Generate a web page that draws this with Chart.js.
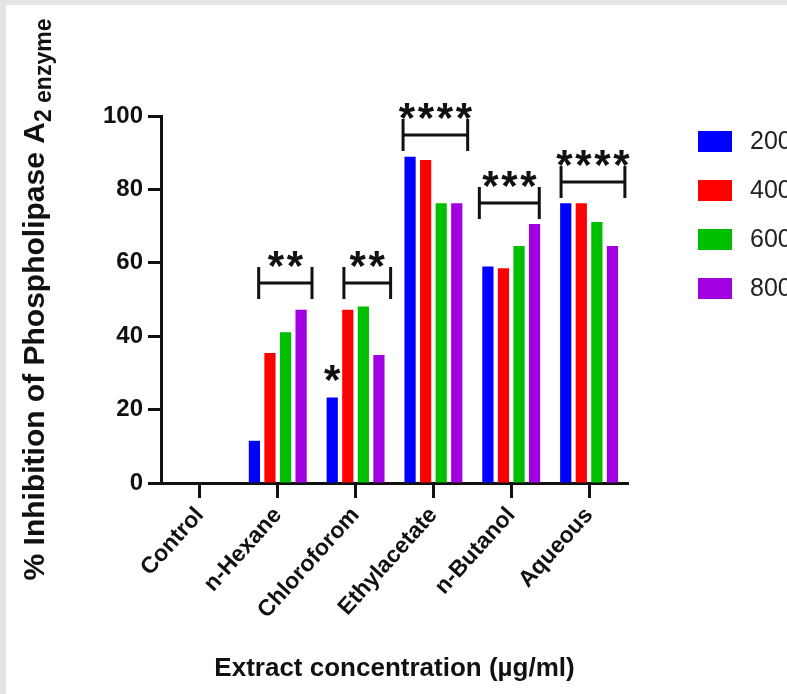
<!DOCTYPE html>
<html><head><meta charset="utf-8">
<script src="https://cdn.jsdelivr.net/npm/chart.js@4.4.0/dist/chart.umd.min.js"></script>
<style>
html,body{margin:0;padding:0;background:#e4e4e4;width:787px;height:694px;overflow:hidden}
#wrap{position:absolute;left:6px;top:5px;width:781px;height:689px;background:#fff}
canvas{display:block}
</style></head><body><div id="wrap"><canvas id="c" width="781" height="689"></canvas></div>
<script>
// ---- data ----
const categories = ['Control', 'n-Hexane', 'Chloroforom', 'Ethylacetate', 'n-Butanol', 'Aqueous'];
const seriesLabels = ['200', '400', '600', '800'];
const conc200 = [0, 11.5, 23.3, 88.9, 59.0, 76.2];
const conc400 = [0, 35.4, 47.2, 88.0, 58.5, 76.2];
const conc600 = [0, 41.1, 48.1, 76.2, 64.6, 71.1];
const conc800 = [0, 47.2, 34.9, 76.2, 70.6, 64.6];
const yTickValues = [0, 20, 40, 60, 80, 100];
const sigLabels = ['', '**', '**', '****', '***', '****'];   // significance over each group
const sigLevels = [null, 54.5, 54.5, 94.8, 76.3, 82.0];      // bracket level (% units)
const singleMarkCategory = 'Chloroforom';
const singleMarkSeries = 0;
const singleMarkLabel = '*';

const FONT = "'Liberation Sans', Arial, sans-serif";
const colors = ['#0000ff', '#ff0000', '#00bf00', '#a100e1'];
const seriesData = [conc200, conc400, conc600, conc800];

// bracket horizontal extents relative to group centre (fraction of category width)
const bracketSpan = [null, [-0.245, 0.44], [-0.15, 0.45], [-0.39, 0.44], [-0.41, 0.36], [-0.36, 0.46]];

const annotations = {
  id: 'annotations',
  afterDatasetsDraw(chart) {
    const {ctx, scales: {x, y}} = chart;
    const cw = x.width / categories.length;
    ctx.save();
    ctx.strokeStyle = '#111';
    ctx.fillStyle = '#111';
    ctx.lineWidth = 3;
    ctx.font = 'bold 42px ' + FONT;
    ctx.textAlign = 'center';
    const m = ctx.measureText('*');
    const starOffset = (m.actualBoundingBoxDescent - m.actualBoundingBoxAscent) / 2;
    const drawStars = (label, cx, cy) => {
      const n = label.length, gap = 19;
      for (let i = 0; i < n; i++) {
        ctx.fillText('*', cx + (i - (n - 1) / 2) * gap, cy - starOffset);
      }
    };
    categories.forEach((c, i) => {
      if (sigLevels[i] == null) return;
      const cx = x.getPixelForValue(i);
      const x1 = cx + bracketSpan[i][0] * cw, x2 = cx + bracketSpan[i][1] * cw;
      const yy = y.getPixelForValue(sigLevels[i]);
      ctx.beginPath();
      ctx.moveTo(x1, yy); ctx.lineTo(x2, yy);
      ctx.moveTo(x1, yy - 16); ctx.lineTo(x1, yy + 16);
      ctx.moveTo(x2, yy - 16); ctx.lineTo(x2, yy + 16);
      ctx.stroke();
      drawStars(sigLabels[i], (x1 + x2) / 2, yy - 24);
    });
    const bar = chart.getDatasetMeta(singleMarkSeries).data[categories.indexOf(singleMarkCategory)];
    drawStars(singleMarkLabel, bar.x, bar.y - 24);
    ctx.restore();
  },
  afterDraw(chart) {
    const {ctx, chartArea} = chart;
    ctx.save();
    // legend
    ctx.textAlign = 'left';
    ctx.textBaseline = 'middle';
    ctx.font = '25px ' + FONT;
    chart.data.datasets.forEach((ds, i) => {
      const top = 126 + i * 49;
      ctx.fillStyle = ds.backgroundColor;
      ctx.fillRect(692, top, 34, 21);
      ctx.fillStyle = '#222';
      ctx.fillText(ds.label, 744, top + 11);
    });
    // y title with subscript
    const main = '% Inhibition of Phospholipase A';
    const sub = '2 enzyme';
    const fMain = 'bold 30px ' + FONT, fSub = 'bold 23px ' + FONT;
    ctx.font = fMain; const wMain = ctx.measureText(main).width;
    ctx.font = fSub; const wSub = ctx.measureText(sub).width;
    const total = wMain + wSub;
    const cy = (chartArea.top + chartArea.bottom) / 2;
    ctx.translate(38, cy);
    ctx.rotate(-Math.PI / 2);
    ctx.fillStyle = '#111';
    ctx.textBaseline = 'alphabetic';
    ctx.font = fMain;
    ctx.fillText(main, -total / 2, 0);
    ctx.font = fSub;
    ctx.fillText(sub, -total / 2 + wMain, 7);
    ctx.restore();
  }
};

new Chart(document.getElementById('c'), {
  type: 'bar',
  data: {
    labels: categories,
    datasets: seriesLabels.map((l, i) => ({
      label: l, data: seriesData[i], backgroundColor: colors[i], borderWidth: 0,
      categoryPercentage: 0.8, barPercentage: 0.72
    }))
  },
  options: {
    responsive: false,
    animation: false,
    layout: {padding: {left: 55, top: 111, right: 159, bottom: 0}},
    plugins: {legend: {display: false}, tooltip: {enabled: false}},
    scales: {
      x: {
        grid: {display: true, offset: false, drawOnChartArea: false, tickLength: 15, tickWidth: 3, tickColor: '#111'},
        border: {display: true, width: 3, color: '#111'},
        ticks: {color: '#111', font: {family: FONT, size: 23, weight: 'bold'}, minRotation: 48, maxRotation: 48, padding: 4},
        title: {display: true, text: 'Extract concentration (µg/ml)', color: '#111',
                font: {family: FONT, size: 26, weight: 'bold'}, padding: {top: 0, bottom: 10}},
        afterFit(s) { s.height = 211; }
      },
      y: {
        min: 0, max: 100,
        afterBuildTicks(s) { s.ticks = yTickValues.map(v => ({value: v})); },
        grid: {display: true, drawOnChartArea: false, tickLength: 13, tickWidth: 3, tickColor: '#111'},
        border: {display: true, width: 3, color: '#111'},
        ticks: {color: '#111', font: {family: FONT, size: 24, weight: 'bold'}, padding: 5},
        afterFit(s) { s.width = 100; }
      }
    }
  },
  plugins: [annotations]
});
</script>
</body></html>
